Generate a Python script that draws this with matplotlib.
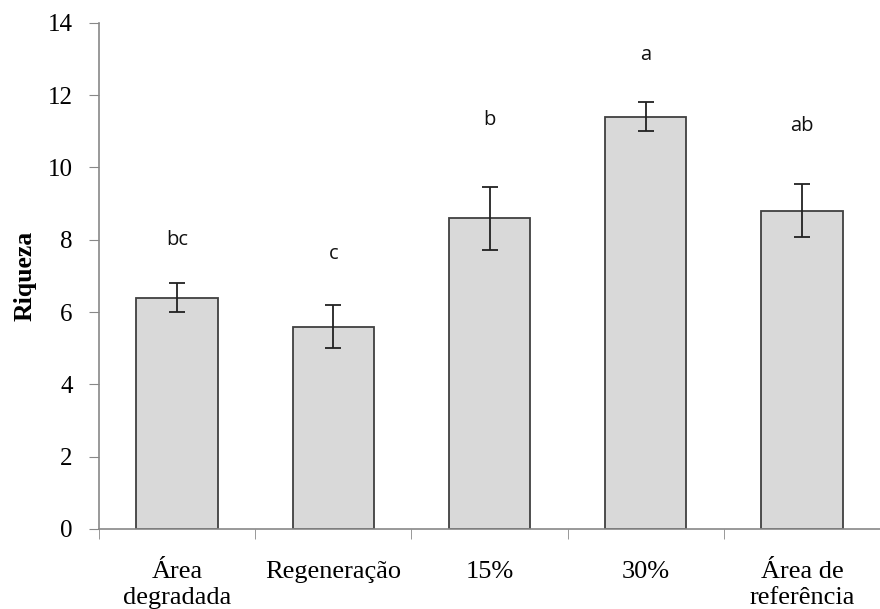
import matplotlib
matplotlib.use("Agg")
import matplotlib.pyplot as plt
import numpy as np

# Riqueza media por tratamento, com erro padrao e letras do teste
categorias = ["Área\ndegradada", "Regeneração", "15%", "30%", "Área de\nreferência"]
riqueza = [6.4, 5.6, 8.6, 11.4, 8.8]
erro = [0.4, 0.6, 0.87, 0.4, 0.73]
letras = ["bc", "c", "b", "a", "ab"]
pos_letras = [8.0, 7.6, 11.3, 13.1, 11.15]

fig = plt.figure(figsize=(8.8, 6.09), dpi=100)
ax = fig.add_axes([0.1125, 0.1314, 0.8875, 0.831])

x = np.arange(len(categorias))
ax.bar(x, riqueza, width=0.52, color="#d9d9d9", edgecolor="#404040", linewidth=1.3,
       yerr=erro, error_kw=dict(ecolor="#222222", elinewidth=1.3, capsize=5.5, capthick=1.3))

for xi, txt, yl in zip(x, letras, pos_letras):
    ax.text(xi, yl, txt, ha="center", va="center", fontsize=14.5, family="Open Sans", color="#111111")

ax.set_xlim(-0.5, len(categorias) - 0.5)
ax.set_ylim(0, 14)
ax.set_yticks(range(0, 15, 2))
ax.set_xticks(x)
ax.set_xticklabels(categorias, family="Liberation Serif", fontsize=19, linespacing=1.25)
ax.set_xticks(np.arange(len(categorias) + 1) - 0.5, minor=True)
ax.tick_params(axis="x", which="major", length=0, pad=23)
ax.tick_params(axis="x", which="minor", length=7, direction="out", color="#888888")
ax.tick_params(axis="y", length=7, direction="out", color="#888888", pad=12)
for lb in ax.get_yticklabels():
    lb.set_family("Liberation Serif")
    lb.set_fontsize(18)

ax.set_ylabel("Riqueza", family="Liberation Serif", fontsize=18.5, fontweight="bold", labelpad=8)

for s in ["top", "right"]:
    ax.spines[s].set_visible(False)
for s in ["left", "bottom"]:
    ax.spines[s].set_color("#888888")
    ax.spines[s].set_linewidth(1.2)

fig.savefig("out.png", dpi=100)
